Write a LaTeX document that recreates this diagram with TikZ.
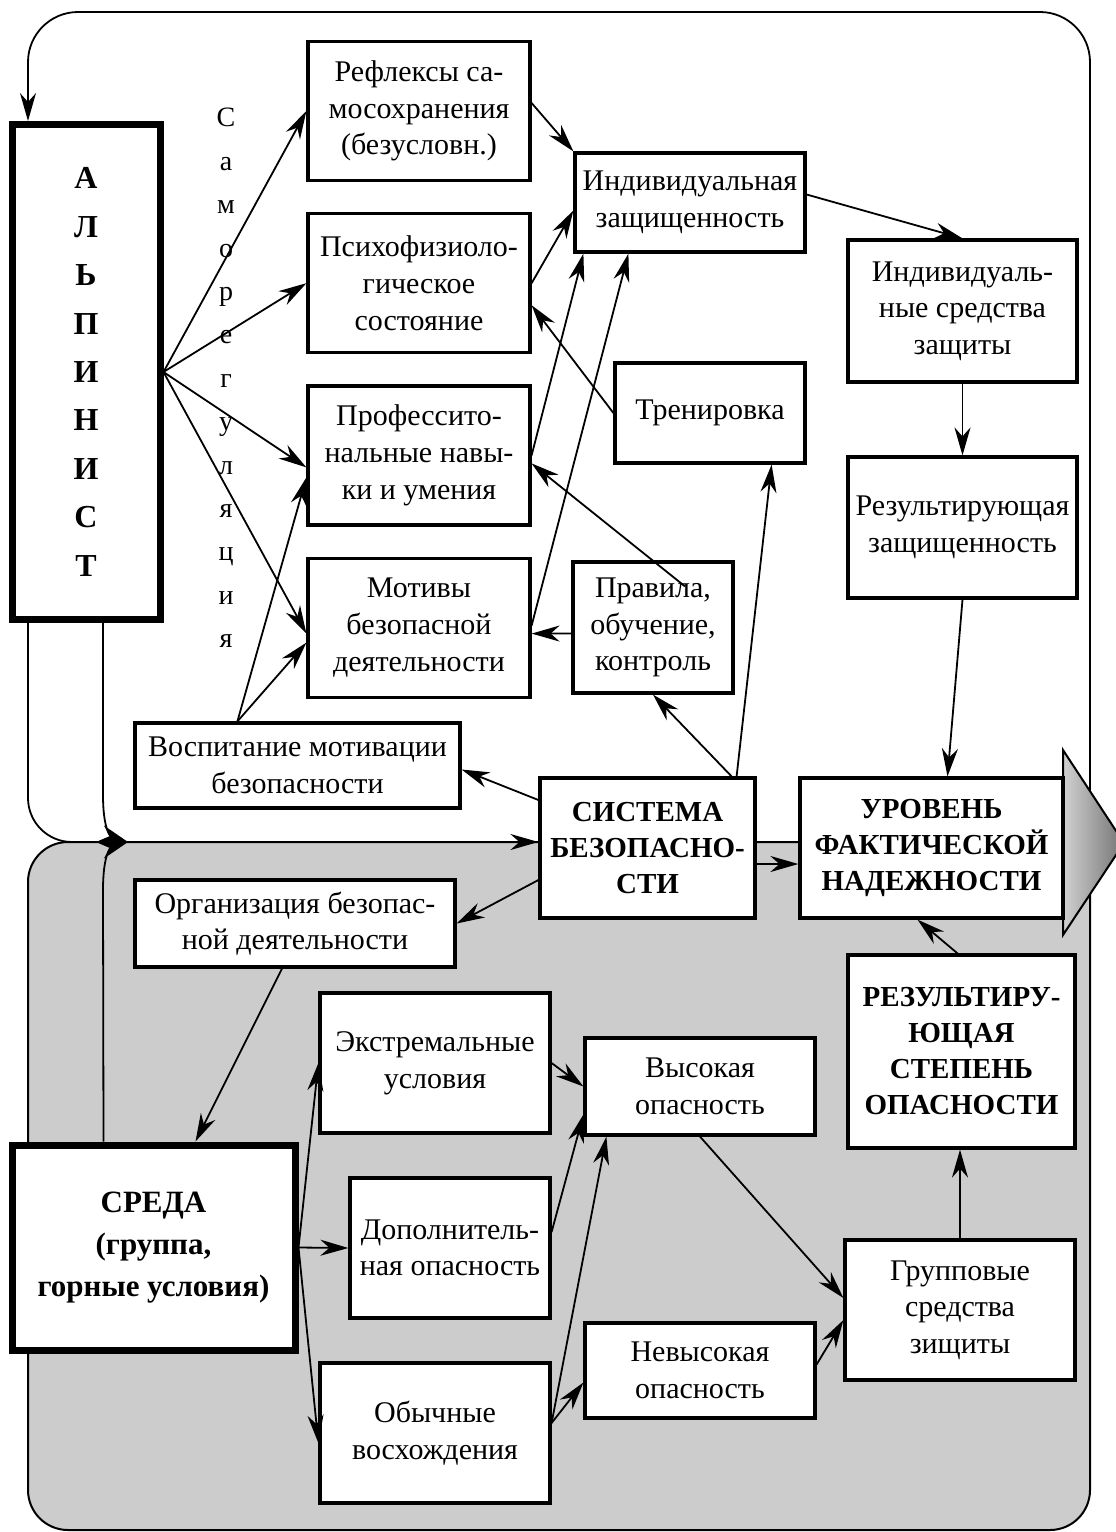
\documentclass[tikz,border=0pt]{standalone}
\usepackage{fontspec}
\setmainfont{Liberation Serif}
\usetikzlibrary{arrows.meta,positioning}

\begin{document}
\begin{tikzpicture}[x=0.5pt,y=-0.5pt,>={Stealth[length=14pt,width=8pt,inset=4.5pt]},line width=0.9pt]
        \tikzstyle{box}=[rectangle,draw,line width=1.6pt,fill=white,align=center,inner sep=1pt,minimum width=111pt,minimum height=69.5pt,font=\fontsize{15}{18.3}\selectfont]
        \tikzstyle{capsbox}=[box,font=\fontsize{14.5}{18}\selectfont\bfseries]
        \tikzstyle{heavybox}=[box,line width=3.5pt]
        \tikzstyle{zone}=[fill=black!20,draw=black,line width=1pt,rounded corners=20pt]

        \useasboundingbox (0,0) rectangle (1115,1532);
        \path [zone] (28,842) rectangle (1090,1530); %lower part
        \coordinate (merge) at (128,842);

        \node [heavybox,minimum width=74pt,minimum height=247.5pt,font=\fontsize{16}{24.2}\selectfont\bfseries] (alp) at (86,372) {А\\Л\\Ь\\П\\И\\Н\\И\\С\\Т};
        \node [align=center,font=\fontsize{14}{21.7}\selectfont] (samo) at (226,378) {С\\а\\м\\о\\р\\е\\г\\у\\л\\я\\ц\\и\\я};

        % feedback loop
        \draw [->,rounded corners=25pt] (1090,842) -- (1090,12) -- (28,12) -- ([xshift=9.75pt]alp.north west);
        \draw [rounded corners=22pt] ([xshift=9.75pt]alp.south west) -- (28,842) -- (merge);

        \node [box] (refl) at (419,111) {Рефлексы са-\\мосохранения\\(безусловн.)};
        \node [box] (psy) [below=15pt of refl] {Психофизиоло-\\гическое\\состояние};
        \node [box] (prof) [below=15pt of psy] {Профессито-\\нальные навы-\\ки и умения};
        \node [box] (motiv) [below=15pt of prof] {Мотивы\\безопасной\\деятельности};

        \node [box,minimum width=115pt,minimum height=49.5pt] (indz) at (690,202.5) {Индивидуальная\\защищенность};
        \node [box,minimum width=95pt,minimum height=50pt] (train) at (710,413) {Тренировка};
        \node [box,minimum width=80pt,minimum height=65.5pt] (rules) at (653,627.5) {Правила,\\обучение,\\контроль};
        \node [box,minimum width=162.5pt,minimum height=42.5pt] (vosp) at (297.5,765.5) {Воспитание мотивации\\безопасности};
        \node [box,minimum width=114.5pt,minimum height=71pt] (indsr) at (962.5,311) {Индивидуаль-\\ные средства\\защиты};
        \node [box,minimum width=114.5pt,minimum height=70.5pt] (resz) at (962.5,527.5) {Результирующая\\защищенность};

        \shade [left color=black!18,right color=black!55,draw=black,line width=1pt] (1063,750) -- (1124,843) -- (1063,935) -- cycle; %output arrow
        \node [capsbox,minimum width=107.5pt,minimum height=70pt] (sys) at (647.5,848) {СИСТЕМА\\БЕЗОПАСНО-\\СТИ};
        \node [capsbox,minimum width=131.5pt,minimum height=70pt] (lvl) at (931.5,848) {УРОВЕНЬ\\ФАКТИЧЕСКОЙ\\НАДЕЖНОСТИ};

        \node [box,minimum width=160pt,minimum height=43.5pt] (org) at (295,923.5) {Организация безопас-\\ной деятельности};
        \node [heavybox,minimum width=141.5pt,minimum height=102.5pt,font=\fontsize{15.5}{21}\selectfont\bfseries] (sreda) at (153.5,1247.5) {СРЕДА\\(группа,\\горные условия)};
        \node [box,minimum width=115pt,minimum height=70pt] (extr) at (435,1063) {Экстремальные\\условия};
        \node [box,minimum width=100pt,minimum height=70pt] (add) at (450,1248) {Дополнитель-\\ная опасность};
        \node [box,minimum width=115pt,minimum height=70pt] (usual) at (435,1433) {Обычные\\восхождения};
        \node [box,minimum width=115pt,minimum height=48.5pt] (high) at (700,1086.5) {Высокая\\опасность};
        \node [box,minimum width=115pt,minimum height=47.5pt] (low) at (700,1370.5) {Невысокая\\опасность};
        \node [box,minimum width=115pt,minimum height=70pt] (group) at (960,1310) {Групповые\\средства\\зищиты};
        \node [capsbox,minimum width=113.5pt,minimum height=96.5pt] (resop) at (961.5,1051.5) {РЕЗУЛЬТИРУ-\\ЮЩАЯ\\СТЕПЕНЬ\\ОПАСНОСТИ};

        % into the system
        \draw [->] ([xshift=47.25pt]alp.south west) -- (103,795) .. controls (103,828) and (110,836) .. (merge);
        \draw [->] ([xshift=-25pt]sreda.north) -- (103,890) .. controls (103,856) and (110,848) .. (merge);
        \draw [->] (merge) -- (merge -| sys.west);

        % samoregulyaciya
        \draw [->] (alp.east) -- (refl.west);
        \draw [->] (alp.east) -- (psy.west);
        \draw [->] (alp.east) -- ([yshift=-6pt]prof.west);
        \draw [->] (alp.east) -- ([yshift=-3pt]motiv.west);
        \draw [->] ([xshift=52pt]vosp.north west) -- ([yshift=-11pt]prof.west);
        \draw [->] ([xshift=52pt]vosp.north west) -- ([yshift=-7.5pt]motiv.west);

        \draw [->] ([yshift=4pt]refl.east) -- (indz.north west);
        \draw [->] (psy.east) -- ([yshift=-4pt]indz.west);
        \draw [->] (prof.east) -- ([xshift=5pt]indz.south west);
        \draw [->] ([yshift=1pt]motiv.east) -- ([xshift=27.5pt]indz.south west);
        \draw [->] (train.west) -- ([yshift=-11pt]psy.east);
        \draw [->] ([xshift=16pt,yshift=-13pt]rules.north) -- ([yshift=-4pt]prof.east);
        \draw [->] ([yshift=-3pt]rules.west) -- ([yshift=-3pt]motiv.east);

        \draw [->] ([xshift=-10pt]sys.north east) -- ([xshift=-17.5pt]train.south east);
        \draw [->] ([xshift=-12.5pt]sys.north east) -- (rules.south);
        \draw [->] ([yshift=24pt]sys.west) -- ([yshift=-2pt]vosp.east);
        \draw [->] ([yshift=-16pt]sys.west) -- (org.east);
        \draw [->] ([xshift=-6.5pt]org.south) -- ([xshift=21pt]sreda.north);
        \draw [->] ([yshift=-8pt]sys.east) -- ([yshift=-8pt]lvl.west);

        % environment
        \draw [->] (sreda.east) -- (extr.west);
        \draw [->] (sreda.east) -- (add.west);
        \draw [->] (sreda.east) -- ([yshift=-5pt]usual.west);
        \draw [->] (extr.east) -- (high.west);
        \draw [->] ([yshift=8pt]add.east) -- ([yshift=-14pt]high.west);
        \draw [->] ([yshift=5pt]usual.east) -- ([xshift=11.5pt]high.south west);
        \draw [->] ([yshift=5pt]usual.east) -- ([yshift=-6pt]low.west);
        \draw [->] (high.south) -- ([yshift=6pt]group.west);
        \draw [->] ([yshift=3pt]low.east) -- ([yshift=-5pt]group.west);
        \draw [->] (group.north) -- (group.north |- resop.south);
        \draw [->] ([xshift=-2pt]resop.north) -- ([xshift=-7pt]lvl.south);

        \draw [->] ([yshift=4pt]indz.east) -- (indsr.north);
        \draw [->] (indsr.south) -- (resz.north);
        \draw [->] (resz.south) -- ([xshift=8pt]lvl.north);
\end{tikzpicture}
\end{document}
